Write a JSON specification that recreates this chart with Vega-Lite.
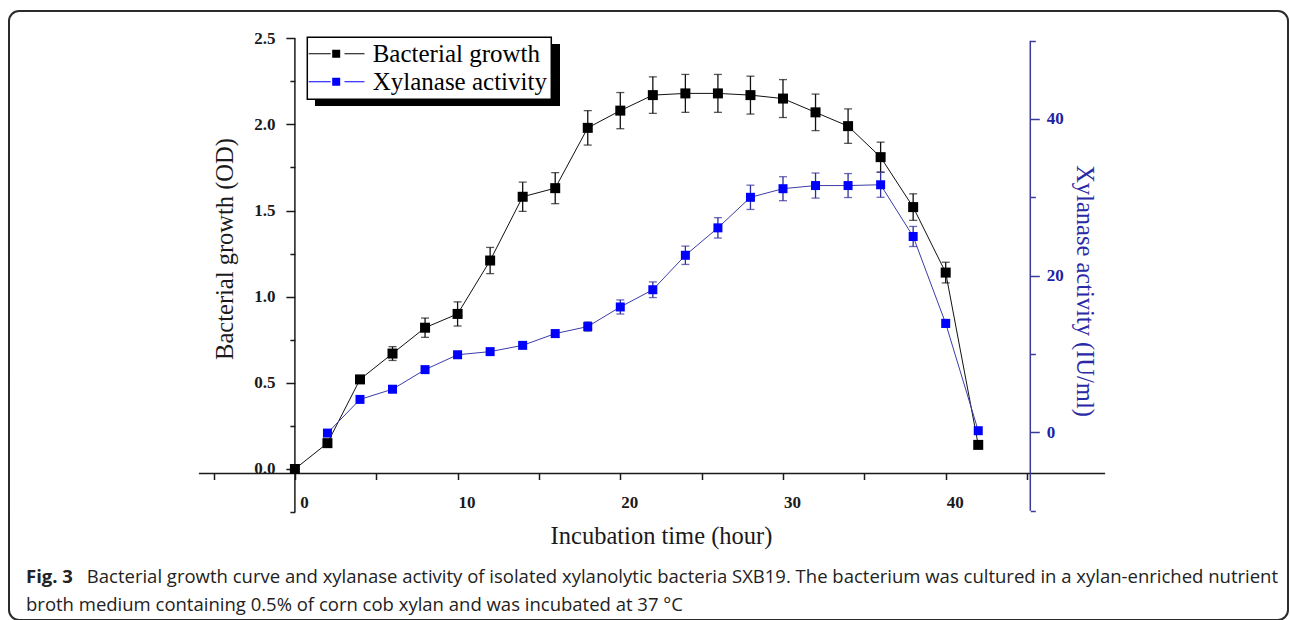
{
  "$schema": "https://vega.github.io/schema/vega-lite/v6.json",
  "autosize": {"type": "none"},
  "padding": {"left": 9, "top": 11, "right": 2, "bottom": 0},
  "width": 1279,
  "height": 609,
  "background": "white",
  "title": {
    "text": "Fig. 3",
    "subtitle": [
      "\u2800\u2800\u2800\u2800 Bacterial growth curve and xylanase activity of isolated xylanolytic bacteria SXB19. The bacterium was cultured in a xylan-enriched nutrient",
      "broth medium containing 0.5% of corn cob xylan and was incubated at 37 °C"
    ],
    "orient": "bottom",
    "anchor": "start",
    "frame": "group",
    "offset": -52,
    "dx": 17,
    "font": "Open Sans",
    "fontSize": 18.5,
    "fontWeight": "bold",
    "color": "#222222",
    "subtitleFont": "Open Sans",
    "subtitleFontSize": 18.5,
    "subtitleFontWeight": "normal",
    "subtitleColor": "#222222",
    "subtitleLineHeight": 27.6,
    "subtitlePadding": -18.5
  },
  "data": {
    "values": [
      {"t": 0, "od": 0.0, "od_err": 0.0, "xyl": null, "xyl_err": null},
      {"t": 2, "od": 0.15, "od_err": 0.01, "xyl": -0.1, "xyl_err": 0.3},
      {"t": 4, "od": 0.52, "od_err": 0.02, "xyl": 4.2, "xyl_err": 0.3},
      {"t": 6, "od": 0.67, "od_err": 0.04, "xyl": 5.5, "xyl_err": 0.3},
      {"t": 8, "od": 0.82, "od_err": 0.056, "xyl": 8.0, "xyl_err": 0.3},
      {"t": 10, "od": 0.9, "od_err": 0.07, "xyl": 9.9, "xyl_err": 0.3},
      {"t": 12, "od": 1.21, "od_err": 0.076, "xyl": 10.3, "xyl_err": 0.3},
      {"t": 14, "od": 1.58, "od_err": 0.085, "xyl": 11.1, "xyl_err": 0.35},
      {"t": 16, "od": 1.63, "od_err": 0.09, "xyl": 12.6, "xyl_err": 0.45},
      {"t": 18, "od": 1.98, "od_err": 0.1, "xyl": 13.5, "xyl_err": 0.6},
      {"t": 20, "od": 2.08, "od_err": 0.105, "xyl": 16.0, "xyl_err": 0.9},
      {"t": 22, "od": 2.17, "od_err": 0.106, "xyl": 18.2, "xyl_err": 1.0},
      {"t": 24, "od": 2.18, "od_err": 0.11, "xyl": 22.6, "xyl_err": 1.17},
      {"t": 26, "od": 2.18, "od_err": 0.11, "xyl": 26.1, "xyl_err": 1.3},
      {"t": 28, "od": 2.17, "od_err": 0.11, "xyl": 30.0, "xyl_err": 1.55},
      {"t": 30, "od": 2.15, "od_err": 0.11, "xyl": 31.1, "xyl_err": 1.53},
      {"t": 32, "od": 2.07, "od_err": 0.106, "xyl": 31.5, "xyl_err": 1.6},
      {"t": 34, "od": 1.99, "od_err": 0.1, "xyl": 31.5, "xyl_err": 1.53},
      {"t": 36, "od": 1.81, "od_err": 0.087, "xyl": 31.6, "xyl_err": 1.6},
      {"t": 38, "od": 1.52, "od_err": 0.077, "xyl": 25.0, "xyl_err": 1.28},
      {"t": 40, "od": 1.14, "od_err": 0.06, "xyl": 13.9, "xyl_err": 0.5},
      {"t": 42, "od": 0.14, "od_err": 0.02, "xyl": 0.2, "xyl_err": 0.2}
    ]
  },
  "layer": [
    {
      "data": {"values": [{}]},
      "mark": {"type": "rule", "color": "#1a1a1a", "strokeWidth": 1.5},
      "encoding": {
        "x": {"datum": -5.9, "type": "quantitative", "scale": {"domain": [-17.572, 61.039], "nice": false, "zero": false},
          "axis": {"values": [-5, 0, 5, 10, 15, 20, 25, 30, 35, 40, 45], "offset": -146.5, "tickSize": 6, "tickColor": "#1a1a1a", "tickWidth": 1.5, "labelExpr": "datum.value % 10 === 0 ? datum.label : ''", "labelOffset": 9, "labelPadding": 15, "labelColor": "#1a1a1a", "labelFlush": false, "labelOverlap": false, "title": "Incubation time (hour)", "titleColor": "#1a1a1a", "titleX": 652, "titleY": 63, "titleBaseline": "middle"}},
        "x2": {"datum": 49.8},
        "y": {"datum": -0.026, "type": "quantitative", "scale": {"domain": [-0.8764, 2.6582], "nice": false, "zero": false}, "axis": null}
      }
    },
    {
      "data": {"values": [{}]},
      "mark": {"type": "rule", "color": "#1a1a1a", "strokeWidth": 1.5},
      "encoding": {
        "x": {"datum": 0, "type": "quantitative", "scale": {"domain": [-17.572, 61.039], "nice": false, "zero": false},
          "axis": {"values": [-5, 0, 5, 10, 15, 20, 25, 30, 35, 40, 45], "offset": -146.5, "tickSize": 6, "tickColor": "#1a1a1a", "tickWidth": 1.5, "labelExpr": "datum.value % 10 === 0 ? datum.label : ''", "labelOffset": 9, "labelPadding": 15, "labelColor": "#1a1a1a", "labelFlush": false, "labelOverlap": false, "title": "Incubation time (hour)", "titleColor": "#1a1a1a", "titleX": 652, "titleY": 63, "titleBaseline": "middle"}},
        "y": {"datum": -0.25, "type": "quantitative", "scale": {"domain": [-0.8764, 2.6582], "nice": false, "zero": false}, "axis": null},
        "y2": {"datum": 2.5}
      }
    },
    {
      "data": {"values": [{}]},
      "mark": {"type": "rule", "color": "#3a3a9c", "strokeWidth": 1.5},
      "encoding": {
        "x": {"datum": 45.2, "type": "quantitative", "scale": {"domain": [-17.572, 61.039], "nice": false, "zero": false},
          "axis": {"values": [-5, 0, 5, 10, 15, 20, 25, 30, 35, 40, 45], "offset": -146.5, "tickSize": 6, "tickColor": "#1a1a1a", "tickWidth": 1.5, "labelExpr": "datum.value % 10 === 0 ? datum.label : ''", "labelOffset": 9, "labelPadding": 15, "labelColor": "#1a1a1a", "labelFlush": false, "labelOverlap": false, "title": "Incubation time (hour)", "titleColor": "#1a1a1a", "titleX": 652, "titleY": 63, "titleBaseline": "middle"}},
        "y": {"datum": -10, "type": "quantitative", "scale": {"domain": [-23.963, 53.785], "nice": false, "zero": false}, "axis": null},
        "y2": {"datum": 50}
      }
    },
    {
      "mark": {"type": "line", "color": "#111111", "strokeWidth": 1},
      "encoding": {
        "x": {"field": "t", "type": "quantitative", "scale": {"domain": [-17.572, 61.039], "nice": false, "zero": false},
          "axis": {"values": [-5, 0, 5, 10, 15, 20, 25, 30, 35, 40, 45], "offset": -146.5, "tickSize": 6, "tickColor": "#1a1a1a", "tickWidth": 1.5, "labelExpr": "datum.value % 10 === 0 ? datum.label : ''", "labelOffset": 9, "labelPadding": 15, "labelColor": "#1a1a1a", "labelFlush": false, "labelOverlap": false, "title": "Incubation time (hour)", "titleColor": "#1a1a1a", "titleX": 652, "titleY": 63, "titleBaseline": "middle"}},
        "y": {"field": "od", "type": "quantitative", "scale": {"domain": [-0.8764, 2.6582], "nice": false, "zero": false}, "axis": null}
      }
    },
    {
      "mark": {"type": "errorbar", "ticks": {"size": 8}, "thickness": 1.3, "color": "#111111"},
      "encoding": {
        "x": {"field": "t", "type": "quantitative", "scale": {"domain": [-17.572, 61.039], "nice": false, "zero": false},
          "axis": {"values": [-5, 0, 5, 10, 15, 20, 25, 30, 35, 40, 45], "offset": -146.5, "tickSize": 6, "tickColor": "#1a1a1a", "tickWidth": 1.5, "labelExpr": "datum.value % 10 === 0 ? datum.label : ''", "labelOffset": 9, "labelPadding": 15, "labelColor": "#1a1a1a", "labelFlush": false, "labelOverlap": false, "title": "Incubation time (hour)", "titleColor": "#1a1a1a", "titleX": 652, "titleY": 63, "titleBaseline": "middle"}},
        "y": {"field": "od", "type": "quantitative", "scale": {"domain": [-0.8764, 2.6582], "nice": false, "zero": false}, "axis": null},
        "yError": {"field": "od_err"}
      }
    },
    {
      "mark": {"type": "square", "size": 100, "opacity": 1, "color": "#000000"},
      "encoding": {
        "x": {"field": "t", "type": "quantitative", "scale": {"domain": [-17.572, 61.039], "nice": false, "zero": false},
          "axis": {"values": [-5, 0, 5, 10, 15, 20, 25, 30, 35, 40, 45], "offset": -146.5, "tickSize": 6, "tickColor": "#1a1a1a", "tickWidth": 1.5, "labelExpr": "datum.value % 10 === 0 ? datum.label : ''", "labelOffset": 9, "labelPadding": 15, "labelColor": "#1a1a1a", "labelFlush": false, "labelOverlap": false, "title": "Incubation time (hour)", "titleColor": "#1a1a1a", "titleX": 652, "titleY": 63, "titleBaseline": "middle"}},
        "y": {
          "field": "od", "type": "quantitative",
          "scale": {"domain": [-0.8764, 2.6582], "nice": false, "zero": false},
          "axis": {
            "orient": "left",
            "values": [-0.25, 0, 0.25, 0.5, 0.75, 1, 1.25, 1.5, 1.75, 2, 2.25, 2.5],
            "offset": -285.9,
            "tickSize": {"condition": {"test": "abs(datum.value*2 - round(datum.value*2)) < 0.001", "value": 9}, "value": 5},
            "tickColor": "#1a1a1a",
            "tickWidth": 1.5,
            "labelExpr": "abs(datum.value*2 - round(datum.value*2)) < 0.001 ? format(datum.value, '.1f') : ''",
            "labelPadding": 11,
            "labelColor": "#1a1a1a",
            "labelFlush": false,
            "labelOverlap": false,
            "title": "Bacterial growth (OD)",
            "titleColor": "#1a1a1a",
            "titleFontSize": 24.5,
            "titleAngle": 270,
            "titleX": -69,
            "titleY": 237.5,
            "titleBaseline": "middle",
            "titleAlign": "center"
          }
        }
      }
    },
    {
      "transform": [{"filter": "isValid(datum.xyl)"}],
      "mark": {"type": "line", "color": "#3c3ca8", "strokeWidth": 1},
      "encoding": {
        "x": {"field": "t", "type": "quantitative", "scale": {"domain": [-17.572, 61.039], "nice": false, "zero": false},
          "axis": {"values": [-5, 0, 5, 10, 15, 20, 25, 30, 35, 40, 45], "offset": -146.5, "tickSize": 6, "tickColor": "#1a1a1a", "tickWidth": 1.5, "labelExpr": "datum.value % 10 === 0 ? datum.label : ''", "labelOffset": 9, "labelPadding": 15, "labelColor": "#1a1a1a", "labelFlush": false, "labelOverlap": false, "title": "Incubation time (hour)", "titleColor": "#1a1a1a", "titleX": 652, "titleY": 63, "titleBaseline": "middle"}},
        "y": {"field": "xyl", "type": "quantitative", "scale": {"domain": [-23.963, 53.785], "nice": false, "zero": false}, "axis": null}
      }
    },
    {
      "transform": [{"filter": "isValid(datum.xyl)"}],
      "mark": {"type": "errorbar", "ticks": {"size": 8}, "thickness": 1.3, "color": "#2d2d9c"},
      "encoding": {
        "x": {"field": "t", "type": "quantitative", "scale": {"domain": [-17.572, 61.039], "nice": false, "zero": false},
          "axis": {"values": [-5, 0, 5, 10, 15, 20, 25, 30, 35, 40, 45], "offset": -146.5, "tickSize": 6, "tickColor": "#1a1a1a", "tickWidth": 1.5, "labelExpr": "datum.value % 10 === 0 ? datum.label : ''", "labelOffset": 9, "labelPadding": 15, "labelColor": "#1a1a1a", "labelFlush": false, "labelOverlap": false, "title": "Incubation time (hour)", "titleColor": "#1a1a1a", "titleX": 652, "titleY": 63, "titleBaseline": "middle"}},
        "y": {"field": "xyl", "type": "quantitative", "scale": {"domain": [-23.963, 53.785], "nice": false, "zero": false}, "axis": null},
        "yError": {"field": "xyl_err"}
      }
    },
    {
      "transform": [{"filter": "isValid(datum.xyl)"}],
      "mark": {"type": "square", "size": 81, "opacity": 1, "color": "#0000ff"},
      "encoding": {
        "x": {"field": "t", "type": "quantitative", "scale": {"domain": [-17.572, 61.039], "nice": false, "zero": false},
          "axis": {"values": [-5, 0, 5, 10, 15, 20, 25, 30, 35, 40, 45], "offset": -146.5, "tickSize": 6, "tickColor": "#1a1a1a", "tickWidth": 1.5, "labelExpr": "datum.value % 10 === 0 ? datum.label : ''", "labelOffset": 9, "labelPadding": 15, "labelColor": "#1a1a1a", "labelFlush": false, "labelOverlap": false, "title": "Incubation time (hour)", "titleColor": "#1a1a1a", "titleX": 652, "titleY": 63, "titleBaseline": "middle"}},
        "y": {
          "field": "xyl", "type": "quantitative",
          "scale": {"domain": [-23.963, 53.785], "nice": false, "zero": false},
          "axis": {
            "orient": "right",
            "values": [-10, 0, 10, 20, 30, 40, 50],
            "offset": -257.7,
            "tickSize": {"condition": {"test": "datum.value % 20 === 0", "value": 9}, "value": 5},
            "tickColor": "#3a3a9c",
            "tickWidth": 1.5,
            "labelExpr": "datum.value % 20 === 0 ? datum.label : ''",
            "labelPadding": 7,
            "labelColor": "#2121a6",
            "labelFlush": false,
            "labelOverlap": false,
            "title": "Xylanase activity (IU/ml)",
            "titleColor": "#2a2aa6",
            "titleFontSize": 24.5,
            "titleAngle": 90,
            "titleX": 52.7,
            "titleY": 279.5,
            "titleBaseline": "middle",
            "titleAlign": "center"
          }
        }
      }
    },
    {
      "data": {"values": []},
      "mark": {"type": "point", "filled": true, "opacity": 1},
      "encoding": {
        "fill": {
          "field": "shadow",
          "type": "quantitative",
          "scale": {"domain": [0, 1], "range": ["#000000", "#000000"]},
          "legend": {
            "orient": "none",
            "direction": "horizontal",
            "legendX": 306,
            "legendY": 33,
            "zindex": 0,
            "title": null,
            "padding": 0,
            "gradientLength": 245,
            "gradientThickness": 62,
            "gradientStrokeWidth": 0,
            "labelExpr": "''",
            "labelOpacity": 0
          }
        }
      }
    },
    {
      "data": {"values": []},
      "mark": {"type": "point", "filled": true, "opacity": 1, "size": 100, "shape": "M-5.5,-0.1H-1.1V0.1H-5.5ZM-0.8,-0.8H0.8V0.8H-0.8ZM1.66,-0.1H5.66V0.1H1.66Z"},
      "encoding": {
        "color": {
          "field": "series",
          "type": "nominal",
          "scale": {"domain": ["Bacterial growth", "Xylanase activity"], "range": ["#000000", "#0000ff"]},
          "legend": {
            "orient": "none",
            "legendX": 298.3,
            "legendY": 26.3,
            "zindex": 1,
            "title": null,
            "symbolOffset": 12.4,
            "labelOffset": 24,
            "labelLimit": 0,
            "labelFont": "Liberation Serif",
            "labelFontSize": 25,
            "labelFontWeight": "normal",
            "labelColor": "#000000",
            "padding": 4,
            "rowPadding": 2,
            "strokeColor": "#000000",
            "fillColor": "#ffffff"
          }
        }
      }
    }
  ],
  "resolve": {"scale": {"y": "independent"}},
  "config": {
    "view": {"stroke": "#2b2b2b", "strokeWidth": 2, "cornerRadius": 10},
    "axis": {
      "domain": false,
      "grid": false,
      "labelFont": "Liberation Serif",
      "labelFontWeight": "bold",
      "labelFontSize": 17,
      "titleFont": "Liberation Serif",
      "titleFontSize": 24.5,
      "titleFontWeight": "normal"
    },
    "legend": {"strokeWidth": 1.5, "gradientHorizontalMaxLength": 400}
  }
}
